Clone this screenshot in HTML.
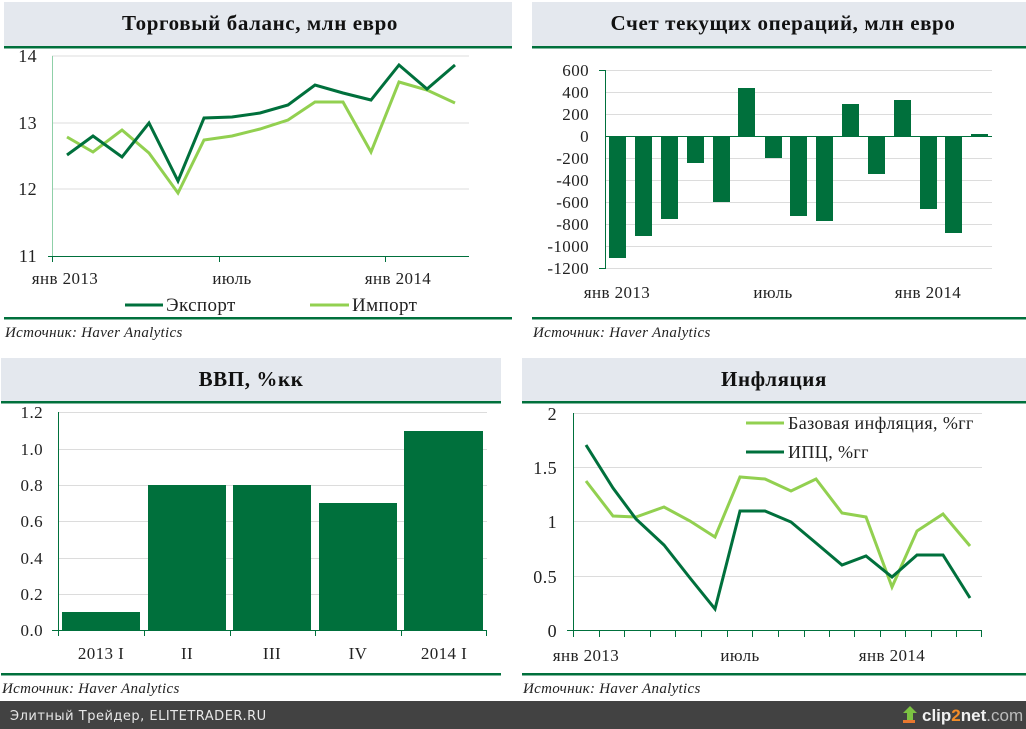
<!DOCTYPE html>
<html><head><meta charset="utf-8"><style>
html,body{margin:0;padding:0;background:#fff;width:1026px;height:729px;overflow:hidden}
svg{display:block}
text{font-family:"Liberation Serif","DejaVu Serif",serif;fill:#222}
.t{font-size:21px;font-weight:bold;text-anchor:middle;fill:#111;letter-spacing:0.6px}
.ax{font-size:17px;letter-spacing:0.4px}
.src{font-size:15px;font-style:italic;letter-spacing:0.3px}
.g{stroke:#dcdcdc;stroke-width:1}
</style></head><body>
<svg width="1026" height="729" viewBox="0 0 1026 729" xmlns="http://www.w3.org/2000/svg">
<!-- Panel 1 -->
<rect x="4" y="2" width="508" height="44" fill="#e4e8ee"/>
<rect x="4" y="46" width="508" height="2.5" fill="#00703c"/>
<text class="t" x="260" y="30">Торговый баланс, млн евро</text>
<g class="g"><line x1="52" y1="56" x2="469" y2="56"/><line x1="52" y1="123" x2="469" y2="123"/><line x1="52" y1="189" x2="469" y2="189"/></g>
<line x1="52.5" y1="56" x2="52.5" y2="256" stroke="#8fd0a8" stroke-width="1"/>
<line x1="48" y1="256.5" x2="469" y2="256.5" stroke="#00703c"/>
<g stroke="#00703c"><line x1="52.5" y1="256" x2="52.5" y2="262"/><line x1="219.5" y1="256" x2="219.5" y2="262"/><line x1="385.5" y1="256" x2="385.5" y2="262"/></g>
<g class="ax" text-anchor="end" style="font-size:18px"><text x="37" y="62">14</text><text x="37" y="129">13</text><text x="37" y="195">12</text><text x="37" y="262">11</text></g>
<g class="ax" text-anchor="middle"><text x="65" y="284">янв 2013</text><text x="232" y="284">июль</text><text x="398" y="284">янв 2014</text></g>
<polyline fill="none" stroke="#92d050" stroke-width="3" points="67,137 93,152 122,130 149,153 178,193 204,140 232,136 260,129 288,120 315,102 343,102 371,152 399,82 427,90 455,103"/>
<polyline fill="none" stroke="#00703c" stroke-width="3" points="67,155 93,136 122,157 149,123 178,181 204,118 232,117 260,113 288,105 315,85 343,93 371,100 399,65 427,89 455,65"/>
<line x1="125" y1="305" x2="163" y2="305" stroke="#00703c" stroke-width="3"/>
<text class="ax" x="166" y="311" style="font-size:19px">Экспорт</text>
<line x1="310" y1="305" x2="349" y2="305" stroke="#92d050" stroke-width="3"/>
<text class="ax" x="352" y="311" style="font-size:19px">Импорт</text>
<rect x="4" y="317" width="508" height="2.5" fill="#00703c"/>
<text class="src" x="5" y="337">Источник: Haver Analytics</text>

<!-- Panel 2 -->
<rect x="532" y="2" width="494" height="44" fill="#e4e8ee"/>
<rect x="532" y="46" width="494" height="2.5" fill="#00703c"/>
<text class="t" x="783" y="30">Счет текущих операций, млн евро</text>
<g class="g">
<line x1="605" y1="70.5" x2="992" y2="70.5"/><line x1="605" y1="92.5" x2="992" y2="92.5"/><line x1="605" y1="114.5" x2="992" y2="114.5"/>
<line x1="605" y1="158.5" x2="992" y2="158.5"/><line x1="605" y1="180.5" x2="992" y2="180.5"/><line x1="605" y1="202.5" x2="992" y2="202.5"/>
<line x1="605" y1="224.5" x2="992" y2="224.5"/><line x1="605" y1="246.5" x2="992" y2="246.5"/><line x1="605" y1="268.5" x2="992" y2="268.5"/></g>
<line x1="605.5" y1="70" x2="605.5" y2="269" stroke="#00703c"/>
<g stroke="#00703c"><line x1="599" y1="70.5" x2="605" y2="70.5"/><line x1="599" y1="268.5" x2="605" y2="268.5"/></g>
<g class="ax" text-anchor="end">
<text x="589" y="76">600</text><text x="589" y="98">400</text><text x="589" y="120">200</text><text x="589" y="142">0</text>
<text x="589" y="164">-200</text><text x="589" y="186">-400</text><text x="589" y="208">-600</text><text x="589" y="230">-800</text>
<text x="589" y="252">-1000</text><text x="589" y="274">-1200</text></g>
<g fill="#00703c">
<rect x="609" y="136" width="17" height="122"/>
<rect x="635" y="136" width="17" height="100"/>
<rect x="661" y="136" width="17" height="83"/>
<rect x="687" y="136" width="17" height="27"/>
<rect x="713" y="136" width="17" height="66"/>
<rect x="738" y="88" width="17" height="48"/>
<rect x="765" y="136" width="17" height="22"/>
<rect x="790" y="136" width="17" height="80"/>
<rect x="816" y="136" width="17" height="85"/>
<rect x="842" y="104" width="17" height="32"/>
<rect x="868" y="136" width="17" height="38"/>
<rect x="894" y="100" width="17" height="36"/>
<rect x="920" y="136" width="17" height="73"/>
<rect x="945" y="136" width="17" height="97"/>
<rect x="971" y="134" width="17" height="2"/>
</g>
<line x1="605" y1="136.5" x2="992" y2="136.5" stroke="#00703c"/>
<g class="ax" text-anchor="middle"><text x="617" y="298">янв 2013</text><text x="773" y="298">июль</text><text x="928" y="298">янв 2014</text></g>
<rect x="532" y="317" width="494" height="2.5" fill="#00703c"/>
<text class="src" x="533" y="337">Источник: Haver Analytics</text>

<!-- Panel 3 -->
<rect x="1" y="358" width="500" height="44" fill="#e4e8ee"/>
<rect x="1" y="401" width="500" height="2.5" fill="#00703c"/>
<text class="t" x="251" y="386">ВВП, %кк</text>
<g class="g">
<line x1="58" y1="412.5" x2="487" y2="412.5"/><line x1="58" y1="449.5" x2="487" y2="449.5"/><line x1="58" y1="485.5" x2="487" y2="485.5"/>
<line x1="58" y1="521.5" x2="487" y2="521.5"/><line x1="58" y1="558.5" x2="487" y2="558.5"/><line x1="58" y1="594.5" x2="487" y2="594.5"/></g>
<line x1="58.5" y1="412" x2="58.5" y2="631" stroke="#00703c"/>
<g class="ax" text-anchor="end">
<text x="43" y="418">1.2</text><text x="43" y="455">1.0</text><text x="43" y="491">0.8</text><text x="43" y="527">0.6</text>
<text x="43" y="564">0.4</text><text x="43" y="600">0.2</text><text x="43" y="636">0.0</text></g>
<g fill="#00703c">
<rect x="62" y="612" width="78" height="18"/>
<rect x="148" y="485" width="78" height="145"/>
<rect x="233" y="485" width="78" height="145"/>
<rect x="319" y="503" width="78" height="127"/>
<rect x="404" y="431" width="79" height="199"/>
</g>
<line x1="52" y1="630.5" x2="487" y2="630.5" stroke="#00703c"/>
<g stroke="#00703c"><line x1="58.5" y1="630" x2="58.5" y2="636"/><line x1="144.5" y1="630" x2="144.5" y2="636"/><line x1="230.5" y1="630" x2="230.5" y2="636"/><line x1="315.5" y1="630" x2="315.5" y2="636"/><line x1="401.5" y1="630" x2="401.5" y2="636"/><line x1="486.5" y1="630" x2="486.5" y2="636"/></g>
<g class="ax" text-anchor="middle"><text x="101" y="659">2013 I</text><text x="187" y="659">II</text><text x="272" y="659">III</text><text x="358" y="659">IV</text><text x="444" y="659">2014 I</text></g>
<rect x="1" y="673" width="500" height="2.5" fill="#00703c"/>
<text class="src" x="2" y="693">Источник: Haver Analytics</text>

<!-- Panel 4 -->
<rect x="522" y="358" width="504" height="44" fill="#e4e8ee"/>
<rect x="522" y="401" width="504" height="2.5" fill="#00703c"/>
<text class="t" x="774" y="386">Инфляция</text>
<g class="g"><line x1="573" y1="413.5" x2="982" y2="413.5"/><line x1="573" y1="467.5" x2="982" y2="467.5"/><line x1="573" y1="521.5" x2="982" y2="521.5"/><line x1="573" y1="576.5" x2="982" y2="576.5"/></g>
<line x1="573.5" y1="413" x2="573.5" y2="631" stroke="#00703c"/>
<line x1="567" y1="630.5" x2="982" y2="630.5" stroke="#00703c"/>
<g stroke="#00703c">
<line x1="573.5" y1="630" x2="573.5" y2="637"/><line x1="599.5" y1="630" x2="599.5" y2="637"/><line x1="624.5" y1="630" x2="624.5" y2="637"/><line x1="650.5" y1="630" x2="650.5" y2="637"/><line x1="675.5" y1="630" x2="675.5" y2="637"/><line x1="701.5" y1="630" x2="701.5" y2="637"/><line x1="727.5" y1="630" x2="727.5" y2="637"/><line x1="752.5" y1="630" x2="752.5" y2="637"/><line x1="778.5" y1="630" x2="778.5" y2="637"/><line x1="804.5" y1="630" x2="804.5" y2="637"/><line x1="829.5" y1="630" x2="829.5" y2="637"/><line x1="854.5" y1="630" x2="854.5" y2="637"/><line x1="880.5" y1="630" x2="880.5" y2="637"/><line x1="905.5" y1="630" x2="905.5" y2="637"/><line x1="931.5" y1="630" x2="931.5" y2="637"/><line x1="956.5" y1="630" x2="956.5" y2="637"/><line x1="981.5" y1="630" x2="981.5" y2="637"/></g>
<g class="ax" text-anchor="end" style="font-size:18px"><text x="557" y="420">2</text><text x="557" y="474">1.5</text><text x="557" y="528">1</text><text x="557" y="583">0.5</text><text x="557" y="637">0</text></g>
<g class="ax" text-anchor="middle"><text x="586" y="661">янв 2013</text><text x="740" y="661">июль</text><text x="892" y="661">янв 2014</text></g>
<polyline fill="none" stroke="#92d050" stroke-width="3" points="586,481 613,516 636,517 664,507 690,521 715,537 740,477 765,479 791,491 816,479 842,513 866,517 892,587 917,531 943,514 970,546"/>
<polyline fill="none" stroke="#00703c" stroke-width="3" points="586,445 613,488 636,519 664,545 690,578 715,609 740,511 765,511 791,522 816,543 842,565 866,556 892,577 917,555 943,555 970,598"/>
<line x1="746" y1="423" x2="784" y2="423" stroke="#92d050" stroke-width="3"/>
<text class="ax" x="788" y="429" style="font-size:18px">Базовая инфляция, %гг</text>
<line x1="746" y1="452" x2="784" y2="452" stroke="#00703c" stroke-width="3"/>
<text class="ax" x="788" y="458" style="font-size:18px">ИПЦ, %гг</text>
<rect x="522" y="673" width="504" height="2.5" fill="#00703c"/>
<text class="src" x="523" y="693">Источник: Haver Analytics</text>

<!-- Footer -->
<rect x="0" y="701" width="1026" height="28" fill="#424242"/>
<text x="10" y="720" style="font-family:'DejaVu Sans','Liberation Sans',sans-serif;font-size:13px;fill:#e8e8e8;letter-spacing:0.5px">Элитный Трейдер, ELITETRADER.RU</text>
<polygon points="903,713 910,706 917,713 913,713 913,720 907,720 907,713" fill="#7cc242"/>
<rect x="903" y="720" width="12" height="3" fill="#e8772e"/>
<text x="922" y="721" style="font-family:'Liberation Sans',sans-serif;font-size:17px;font-weight:bold;fill:#f0f0f0">clip<tspan fill="#f28c28">2</tspan>net<tspan fill="#bbb" font-weight="normal">.com</tspan></text>
</svg>
</body></html>
